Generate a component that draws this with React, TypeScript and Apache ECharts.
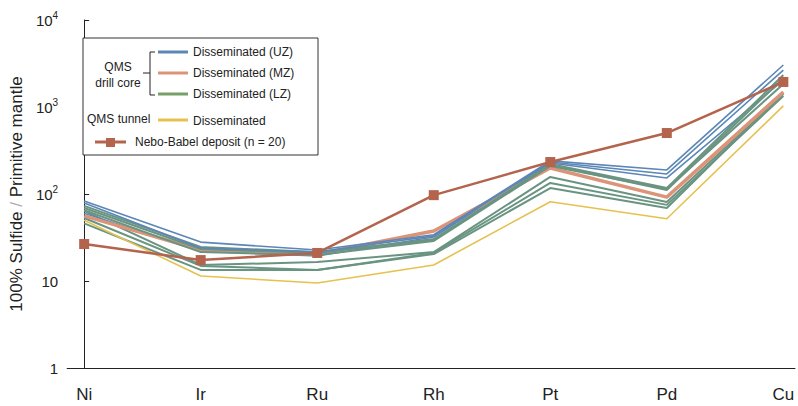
import React, { useEffect, useRef } from "react";
import * as echarts from "echarts";

const categories = ["Ni", "Ir", "Ru", "Rh", "Pt", "Pd", "Cu"];
const yTicks = [1, 10, 100, 1000, 10000];

const uz1 = [83, 28, 22.7, 34, 240, 189, 3040];
const uz2 = [79, 24, 21.5, 33, 233, 170, 2660];
const uz3 = [60, 22, 19.4, 32, 227, 153, 2040];
const mz1 = [56, 22.7, 20.4, 37.6, 199, 92, 1490];
const lz1 = [73, 24.6, 21.5, 29.6, 221, 117, 2330];
const lz2 = [69, 23.3, 21, 30.4, 215, 111, 2150];
const lz3 = [65, 21.5, 19.9, 28.8, 210, 114, 1840];
const lz4 = [64, 15.3, 16.5, 21.5, 157, 81, 1410];
const lz5 = [53, 14.9, 13.4, 21, 134, 75, 1340];
const lz6 = [46, 13.4, 13.4, 20.4, 117, 69, 1450];
const tunnel = [50, 11.4, 9.5, 15.3, 81.5, 52, 1030];
const nebo = [26.6, 17.4, 21, 97, 233, 502, 1940];

const BLUE = "#5b86b6";
const SALMON = "#dc9479";
const GREEN = "#6a9482";
const GREEN_LEG = "#76a066";
const YELLOW = "#e6c14f";
const NEBO = "#b4644c";
const FONT = "'Liberation Sans', Arial, sans-serif";

const toData = (arr: number[]) => arr.map((v, i) => [i, v]);

const lineSeries = (name: string, arr: number[], color: string, width: number, z = 2) => ({
  name,
  type: "line",
  data: toData(arr),
  symbol: "none",
  lineStyle: { color, width },
  itemStyle: { color },
  z,
});

export default function App() {
  const ref = useRef<HTMLDivElement>(null);
  useEffect(() => {
    if (!ref.current) return;
    const chart = echarts.init(ref.current, undefined, { renderer: "svg" });
    const legendText = (text: string, x: number, y: number, align = "left") => ({
      type: "text",
      x,
      y,
      style: { text, fill: "#222", font: `12px ${FONT}`, align, verticalAlign: "middle" },
      z: 20,
    });
    const legendLine = (y: number, color: string) => ({
      type: "line",
      shape: { x1: 158, y1: y, x2: 188, y2: y },
      style: { stroke: color, lineWidth: 3 },
      z: 20,
    });
    chart.setOption({
      animation: false,
      grid: { left: 67, top: 20, right: 3, bottom: 38, containLabel: false },
      xAxis: {
        type: "value",
        min: -0.146,
        max: 6.1,
        splitLine: { show: false },
        axisLine: { show: true, lineStyle: { color: "#222", width: 1 } },
        axisTick: { show: false },
        axisLabel: {
          customValues: [0, 1, 2, 3, 4, 5, 6],
          formatter: (v: number) => categories[Math.round(v)] ?? "",
          color: "#222",
          fontSize: 17,
          fontFamily: FONT,
          margin: 18,
        },
      },
      yAxis: {
        type: "log",
        logBase: 10,
        min: 1,
        max: 10000,
        splitLine: { show: false },
        minorTick: { show: false },
        axisLine: { show: true, lineStyle: { color: "#222", width: 1 } },
        axisTick: { show: true, inside: true, length: 5, lineStyle: { color: "#222" } },
        axisLabel: {
          color: "#222",
          fontSize: 15,
          fontFamily: FONT,
          margin: 9,
          formatter: (v: number) => {
            const e = Math.round(Math.log10(v));
            if (!yTicks.includes(Math.round(v))) return "";
            if (e === 0) return "1";
            if (e === 1) return "10";
            return `{b|10}{s|${e}}`;
          },
          rich: {
            b: { fontSize: 15, fontFamily: FONT, color: "#222" },
            s: { fontSize: 10, fontFamily: FONT, color: "#222", verticalAlign: "bottom", padding: [0, 0, 10, 0] },
          },
        },
        name: "100% Sulfide {g|/} Primitive mantle",
        nameLocation: "middle",
        nameGap: 42,
        nameTextStyle: {
          color: "#222",
          fontSize: 17,
          fontFamily: FONT,
          rich: { g: { color: "#aaa", fontSize: 17, fontFamily: FONT } },
        },
      },
      series: [
        lineSeries("lz6", lz6, GREEN, 2),
        lineSeries("lz5", lz5, GREEN, 2),
        lineSeries("lz4", lz4, GREEN, 2),
        lineSeries("tunnel", tunnel, YELLOW, 1.6),
        lineSeries("uz3", uz3, BLUE, 1.6),
        lineSeries("mz1", mz1, SALMON, 3.5),
        lineSeries("lz3", lz3, GREEN, 2),
        lineSeries("lz2", lz2, GREEN, 2),
        lineSeries("lz1", lz1, GREEN, 2),
        lineSeries("uz2", uz2, BLUE, 1.6),
        lineSeries("uz1", uz1, BLUE, 1.6),
        {
          name: "Nebo-Babel deposit (n = 20)",
          type: "line",
          data: toData(nebo),
          symbol: "rect",
          symbolSize: 10,
          lineStyle: { color: NEBO, width: 2.5 },
          itemStyle: { color: NEBO },
          z: 5,
        },
      ],
      graphic: [
        {
          type: "rect",
          shape: { x: 83, y: 38, width: 235, height: 117 },
          style: { fill: "#fff", stroke: "#333", lineWidth: 1 },
          z: 10,
        },
        legendLine(52, BLUE),
        legendLine(73, SALMON),
        legendLine(94, GREEN_LEG),
        legendLine(120, YELLOW),
        legendText("Disseminated (UZ)", 193, 52),
        legendText("Disseminated (MZ)", 193, 73),
        legendText("Disseminated (LZ)", 193, 94),
        legendText("Disseminated", 193, 121),
        legendText("QMS", 118, 67, "center"),
        legendText("drill core", 118, 83, "center"),
        legendText("QMS tunnel", 87, 119),
        legendText("Nebo-Babel deposit (n = 20)", 135, 142),
        {
          type: "polyline",
          shape: { points: [[155, 52], [150, 52], [150, 95], [155, 95]] },
          style: { stroke: "#222", lineWidth: 1, fill: null },
          z: 20,
        },
        {
          type: "line",
          shape: { x1: 143, y1: 73, x2: 150, y2: 73 },
          style: { stroke: "#222", lineWidth: 1 },
          z: 20,
        },
        {
          type: "line",
          shape: { x1: 95, y1: 142, x2: 126, y2: 142 },
          style: { stroke: NEBO, lineWidth: 3 },
          z: 20,
        },
        {
          type: "rect",
          shape: { x: 106, y: 138, width: 9, height: 9 },
          style: { fill: NEBO },
          z: 21,
        },
      ],
    });
    return () => chart.dispose();
  }, []);
  return <div ref={ref} style={{ width: 798, height: 406, position: "absolute", left: 0, top: 0 }} />;
}
